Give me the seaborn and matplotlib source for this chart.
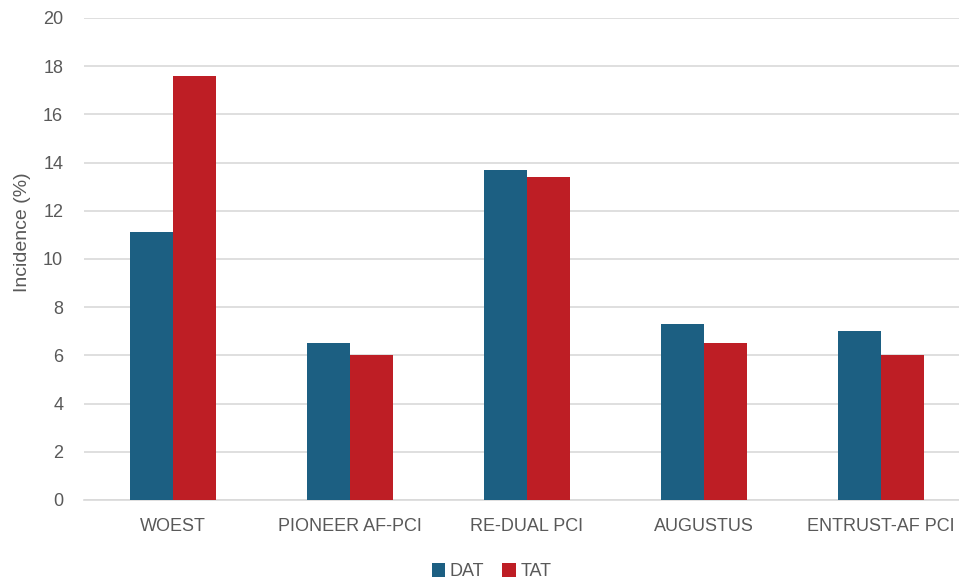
import matplotlib
matplotlib.use("Agg")
import matplotlib.pyplot as plt
import seaborn as sns
import pandas as pd

trials = ["WOEST", "PIONEER AF-PCI", "RE-DUAL PCI", "AUGUSTUS", "ENTRUST-AF PCI"]
dat_values = [11.1, 6.5, 13.7, 7.3, 7.0]
tat_values = [17.6, 6.0, 13.4, 6.5, 6.0]
series_names = ["DAT", "TAT"]
y_ticks = [0, 2, 4, 6, 8, 10, 12, 14, 16, 18, 20]

df = pd.DataFrame({
    "trial": trials * 2,
    "therapy": [series_names[0]] * len(trials) + [series_names[1]] * len(trials),
    "incidence": dat_values + tat_values,
})

sns.set_theme(style="white")
plt.rcParams["font.family"] = ["Liberation Sans", "DejaVu Sans"]
text_color = "#595959"

fig = plt.figure(figsize=(9.59, 5.83), dpi=100)
ax = fig.add_axes([0.0876, 0.1424, 0.9234, 0.8268])

palette = {"DAT": "#1C5F82", "TAT": "#BE1E25"}
sns.barplot(data=df, x="trial", y="incidence", hue="therapy", order=trials,
            hue_order=series_names, palette=palette, width=0.486,
            saturation=1, ax=ax, zorder=3, legend=True, linewidth=0)

ax.set_ylim(0, 20)
ax.set_xlim(-0.5, len(trials) - 0.5)
ax.set_yticks(y_ticks)
ax.yaxis.grid(True, color="#d9d9d9", linewidth=1.2, zorder=0)
ax.xaxis.grid(False)
for s in ["top", "right", "left"]:
    ax.spines[s].set_visible(False)
ax.spines["bottom"].set_color("#d9d9d9")
ax.spines["bottom"].set_linewidth(1.2)
ax.tick_params(axis="both", length=0, labelsize=13, colors=text_color)
ax.tick_params(axis="x", pad=13)
ax.tick_params(axis="y", pad=15)
ax.set_xlabel("")
ax.set_ylabel("Incidence (%)", fontsize=14, color=text_color)
ax.yaxis.set_label_coords(-0.06, 0.556)

leg = ax.legend(loc="center", bbox_to_anchor=(0.46, -0.149), ncol=2,
                frameon=False, fontsize=13, handlelength=0.75, handleheight=0.75,
                handletextpad=0.25, columnspacing=1.0)
for t in leg.get_texts():
    t.set_color(text_color)

fig.savefig("out.png", dpi=100)
